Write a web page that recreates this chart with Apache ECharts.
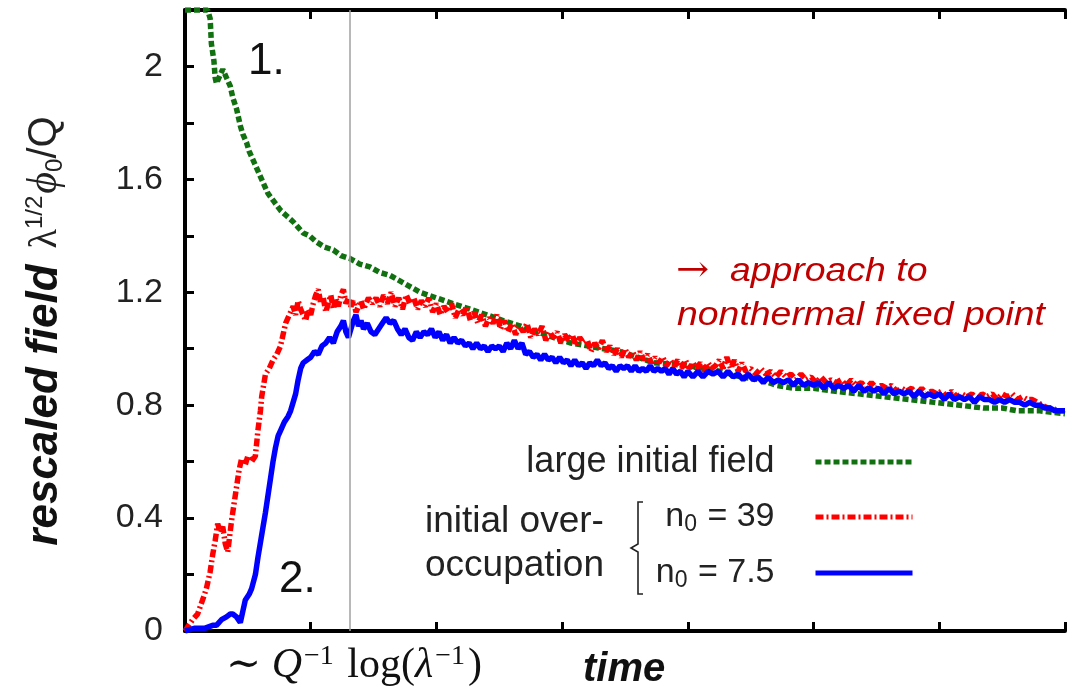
<!DOCTYPE html>
<html>
<head>
<meta charset="utf-8">
<script src="https://cdn.jsdelivr.net/npm/echarts@6/dist/echarts.min.js"></script>
<style>
  html, body { margin: 0; padding: 0; background: #fff; }
  #chart { width: 1068px; height: 691px; }
</style>
</head>
<body>
<div id="chart"></div>
<script>
// time in units of the tick spacing, field value rescaled
const seriesNames = ['large initial field', 'n0 = 39', 'n0 = 7.5'];

const largeField = [
  [0.00,2.20],[0.10,2.20],[0.18,2.20],[0.20,2.17],[0.21,2.08],[0.23,2.02],[0.24,1.96],[0.25,1.94],
  [0.28,1.97],[0.30,1.99],[0.33,1.96],[0.36,1.93],[0.38,1.89],[0.41,1.85],[0.44,1.79],[0.46,1.76],
  [0.49,1.73],[0.51,1.70],[0.54,1.67],[0.57,1.64],[0.60,1.61],[0.63,1.58],[0.66,1.55],[0.71,1.52],
  [0.76,1.49],[0.81,1.47],[0.86,1.45],[0.90,1.43],[0.94,1.41],[0.99,1.40],[1.04,1.38],[1.11,1.36],
  [1.18,1.35],[1.24,1.33],[1.31,1.32],[1.39,1.30],[1.47,1.29],[1.55,1.27],[1.63,1.26],[1.75,1.23],
  [1.87,1.20],[2.00,1.18],[2.13,1.16],[2.27,1.14],[2.40,1.12],[2.53,1.10],[2.67,1.08],[2.80,1.06],
  [2.93,1.04],[3.07,1.02],[3.20,1.01],[3.33,1.00],[3.46,0.99],[3.60,0.97],[3.73,0.95],[4.00,0.94],
  [4.26,0.92],[4.42,0.90],[4.58,0.89],[4.71,0.87],[4.84,0.86],[5.00,0.86],[5.16,0.85],[5.36,0.84],
  [5.56,0.83],[5.76,0.82],[5.96,0.81],[6.16,0.80],[6.35,0.79],[6.50,0.79],[6.62,0.78],[6.80,0.78],
  [7.00,0.77]
];

const overOcc39 = [
  [0.00,0.00],[0.03,0.02],[0.06,0.04],[0.10,0.06],[0.14,0.11],[0.17,0.15],[0.20,0.21],[0.22,0.27],
  [0.24,0.32],[0.26,0.38],[0.28,0.35],[0.30,0.37],[0.32,0.31],[0.34,0.28],[0.37,0.39],[0.39,0.45],
  [0.41,0.51],[0.43,0.57],[0.45,0.61],[0.48,0.59],[0.50,0.62],[0.53,0.60],[0.56,0.62],[0.58,0.71],
  [0.60,0.78],[0.61,0.83],[0.64,0.91],[0.67,0.93],[0.70,0.96],[0.73,0.98],[0.76,1.01],[0.78,1.05],
  [0.80,1.09],[0.83,1.12],[0.86,1.15],[0.88,1.12],[0.90,1.17],[0.92,1.14],[0.94,1.12],[0.96,1.10],
  [0.98,1.14],[1.00,1.12],[1.02,1.16],[1.04,1.19],[1.06,1.21],[1.08,1.16],[1.10,1.18],[1.12,1.13],
  [1.14,1.16],[1.16,1.19],[1.18,1.14],[1.20,1.18],[1.22,1.15],[1.24,1.19],[1.26,1.21],[1.28,1.16],
  [1.30,1.18],[1.32,1.15],[1.34,1.17],[1.36,1.13],[1.38,1.15],[1.40,1.17],[1.42,1.14],[1.44,1.16],
  [1.46,1.18],[1.49,1.16],[1.52,1.18],[1.55,1.15],[1.58,1.19],[1.61,1.16],[1.64,1.20],[1.67,1.15],
  [1.70,1.18],[1.73,1.14],[1.76,1.19],[1.79,1.16],[1.82,1.18],[1.85,1.14],[1.88,1.17],[1.91,1.15],
  [1.94,1.18],[1.97,1.13],[2.00,1.16],[2.03,1.12],[2.06,1.15],[2.09,1.13],[2.12,1.16],[2.15,1.11],
  [2.18,1.14],[2.21,1.12],[2.24,1.15],[2.27,1.10],[2.30,1.13],[2.33,1.09],[2.36,1.12],[2.39,1.08],
  [2.42,1.11],[2.45,1.09],[2.48,1.12],[2.51,1.07],[2.54,1.10],[2.57,1.06],[2.60,1.09],[2.63,1.05],
  [2.66,1.08],[2.69,1.06],[2.72,1.09],[2.75,1.04],[2.78,1.07],[2.81,1.05],[2.84,1.08],[2.87,1.03],
  [2.90,1.06],[2.93,1.04],[2.96,1.06],[2.99,1.02],[3.02,1.05],[3.05,1.03],[3.08,1.05],[3.11,1.01],
  [3.14,1.04],[3.17,1.02],[3.20,1.03],[3.23,0.99],[3.26,1.02],[3.29,1.00],[3.32,1.03],[3.35,0.99],
  [3.38,1.01],[3.41,0.98],[3.44,1.00],[3.47,0.97],[3.50,1.00],[3.53,0.97],[3.56,0.99],[3.59,0.96],
  [3.62,0.99],[3.65,0.96],[3.68,0.98],[3.71,0.95],[3.74,0.97],[3.77,0.95],[3.80,0.97],[3.83,0.94],
  [3.86,0.96],[3.89,0.94],[3.92,0.96],[3.95,0.93],[3.98,0.96],[4.01,0.93],[4.04,0.95],[4.07,0.93],
  [4.10,0.95],[4.13,0.92],[4.16,0.95],[4.19,0.93],[4.22,0.94],[4.25,0.96],[4.28,0.93],[4.31,0.97],
  [4.34,0.93],[4.37,0.96],[4.40,0.92],[4.43,0.95],[4.46,0.92],[4.50,0.93],[4.54,0.91],[4.58,0.93],
  [4.62,0.91],[4.66,0.92],[4.70,0.90],[4.74,0.92],[4.78,0.90],[4.82,0.91],[4.86,0.89],[4.90,0.91],
  [4.94,0.89],[4.98,0.90],[5.02,0.88],[5.06,0.90],[5.10,0.88],[5.14,0.89],[5.18,0.88],[5.22,0.89],
  [5.26,0.87],[5.30,0.89],[5.34,0.87],[5.38,0.88],[5.42,0.86],[5.46,0.88],[5.50,0.86],[5.54,0.87],
  [5.58,0.86],[5.62,0.87],[5.66,0.85],[5.70,0.86],[5.74,0.85],[5.78,0.86],[5.82,0.84],[5.86,0.86],
  [5.90,0.84],[5.94,0.85],[5.98,0.84],[6.02,0.85],[6.06,0.83],[6.10,0.85],[6.14,0.83],[6.18,0.84],
  [6.22,0.83],[6.26,0.84],[6.30,0.82],[6.34,0.84],[6.38,0.83],[6.42,0.84],[6.46,0.82],[6.50,0.84],
  [6.54,0.83],[6.58,0.84],[6.62,0.82],[6.66,0.83],[6.70,0.82],[6.74,0.82],[6.78,0.81],[6.82,0.80],
  [6.86,0.79],[6.90,0.79],[6.94,0.78],[7.00,0.78]
];

const overOcc75 = [
  [0.00,0.00],[0.08,0.01],[0.16,0.01],[0.22,0.02],[0.25,0.02],[0.29,0.04],[0.33,0.05],[0.36,0.06],
  [0.38,0.06],[0.41,0.05],[0.44,0.03],[0.46,0.07],[0.48,0.11],[0.51,0.13],[0.53,0.15],[0.56,0.20],
  [0.58,0.26],[0.61,0.34],[0.64,0.42],[0.66,0.48],[0.68,0.54],[0.70,0.60],[0.72,0.65],[0.74,0.69],
  [0.76,0.71],[0.79,0.74],[0.82,0.76],[0.84,0.78],[0.86,0.81],[0.88,0.84],[0.90,0.89],[0.92,0.93],
  [0.94,0.95],[0.97,0.96],[1.00,0.97],[1.03,0.99],[1.06,0.98],[1.09,1.01],[1.12,1.02],[1.15,1.04],
  [1.18,1.02],[1.21,1.06],[1.24,1.08],[1.26,1.10],[1.28,1.06],[1.30,1.04],[1.32,1.07],[1.34,1.10],
  [1.36,1.12],[1.38,1.08],[1.40,1.10],[1.42,1.07],[1.45,1.09],[1.48,1.06],[1.51,1.05],[1.54,1.07],
  [1.57,1.09],[1.60,1.11],[1.63,1.09],[1.66,1.10],[1.69,1.07],[1.72,1.05],[1.75,1.07],[1.78,1.04],
  [1.81,1.03],[1.84,1.06],[1.87,1.04],[1.90,1.06],[1.93,1.05],[1.96,1.07],[1.99,1.04],[2.02,1.06],
  [2.05,1.03],[2.08,1.05],[2.11,1.02],[2.14,1.04],[2.17,1.02],[2.20,1.03],[2.23,1.01],[2.26,1.02],
  [2.29,1.00],[2.32,1.02],[2.35,1.00],[2.38,1.01],[2.41,0.99],[2.44,1.01],[2.47,1.00],[2.50,1.01],
  [2.53,0.99],[2.56,1.02],[2.59,1.00],[2.62,1.03],[2.65,1.00],[2.68,1.02],[2.71,0.98],[2.74,0.99],
  [2.77,0.97],[2.80,0.98],[2.83,0.96],[2.86,0.98],[2.89,0.96],[2.92,0.97],[2.95,0.95],[2.98,0.97],
  [3.01,0.95],[3.04,0.96],[3.07,0.94],[3.10,0.96],[3.13,0.94],[3.16,0.95],[3.19,0.93],[3.22,0.95],
  [3.25,0.94],[3.28,0.96],[3.31,0.94],[3.34,0.95],[3.37,0.93],[3.40,0.94],[3.43,0.92],[3.46,0.94],
  [3.49,0.93],[3.52,0.94],[3.55,0.92],[3.58,0.94],[3.61,0.92],[3.64,0.93],[3.67,0.92],[3.70,0.94],
  [3.73,0.92],[3.76,0.93],[3.79,0.92],[3.82,0.93],[3.85,0.91],[3.88,0.93],[3.91,0.91],[3.94,0.92],
  [3.97,0.90],[4.00,0.92],[4.04,0.90],[4.08,0.92],[4.12,0.90],[4.16,0.92],[4.20,0.91],[4.24,0.92],
  [4.28,0.90],[4.32,0.92],[4.36,0.90],[4.40,0.91],[4.44,0.89],[4.48,0.91],[4.52,0.89],[4.56,0.90],
  [4.60,0.88],[4.64,0.90],[4.68,0.88],[4.72,0.89],[4.76,0.88],[4.80,0.89],[4.84,0.87],[4.88,0.89],
  [4.92,0.87],[4.96,0.88],[5.00,0.87],[5.04,0.88],[5.08,0.86],[5.12,0.88],[5.16,0.86],[5.20,0.87],
  [5.24,0.86],[5.28,0.87],[5.32,0.85],[5.36,0.87],[5.40,0.85],[5.44,0.86],[5.48,0.85],[5.52,0.86],
  [5.56,0.84],[5.60,0.86],[5.64,0.84],[5.68,0.85],[5.72,0.84],[5.76,0.85],[5.80,0.83],[5.84,0.85],
  [5.88,0.83],[5.92,0.84],[5.96,0.83],[6.00,0.84],[6.04,0.82],[6.08,0.84],[6.12,0.82],[6.16,0.83],
  [6.20,0.82],[6.24,0.83],[6.28,0.81],[6.32,0.83],[6.36,0.82],[6.40,0.82],[6.44,0.81],[6.48,0.82],
  [6.52,0.81],[6.56,0.82],[6.60,0.81],[6.64,0.81],[6.68,0.80],[6.72,0.81],[6.76,0.80],[6.80,0.80],
  [6.84,0.79],[6.88,0.79],[6.92,0.78],[6.96,0.78],[7.00,0.78]
];

// time at which the gray guide line sits (~ Q^-1 log(1/lambda))
const guideTime = [1.31];

const yTicks = { min: 0, max: 2.2, step: 0.2 };
const xTicks = { min: 0, max: 7, step: 1 };

const SANS = '"Liberation Sans", Arial, sans-serif';
const SERIF = '"Liberation Serif", "DejaVu Serif", serif';
const GREEN = '#11700f';
const RED = '#ff0000';
const BLUE = '#0000ff';
const DARKRED = '#c00000';

const chart = echarts.init(document.getElementById('chart'), null, { renderer: 'canvas' });

function yLabel(v) {
  const k = Math.round(v * 10);
  if (k % 4 !== 0) return '';
  if (k === 0) return '0';
  return k % 10 === 0 ? String(k / 10) : (k / 10).toFixed(1);
}

const axisLineStyle = { color: '#000', width: 4 };
const tickStyle = { show: true, inside: true, length: 9, lineStyle: { color: '#000', width: 3 } };

const legendRich = {
  t: { fontFamily: SANS, fontSize: 36, color: '#222' },
  n: { fontFamily: SANS, fontSize: 34, color: '#222' },
  s: { fontFamily: SANS, fontSize: 23, color: '#222', verticalAlign: 'bottom', padding: [16, 1, 0, 0] },
  g: { width: 36 }
};
function legendText(name) {
  const m = name.match(/^n0(.*)$/);
  if (m) return '{n|n}{s|0}{n|' + m[1] + '}{g|}';
  return '{t|' + name + '}{g|}';
}
function makeLegend(name, top) {
  return {
    data: [name],
    right: 153,
    top: top,
    orient: 'horizontal',
    align: 'right',
    padding: 0,
    itemWidth: 97,
    itemHeight: 14,
    selectedMode: false,
    formatter: legendText,
    itemStyle: { opacity: 0 },
    lineStyle: { width: 5 },
    textStyle: { rich: legendRich }
  };
}

const option = {
  animation: false,
  backgroundColor: '#fff',
  grid: { left: 185, right: 3, top: 10, bottom: 60, containLabel: false },
  xAxis: [
    {
      type: 'value', min: xTicks.min, max: xTicks.max, interval: xTicks.step,
      axisLine: { show: true, lineStyle: axisLineStyle },
      axisTick: tickStyle, axisLabel: { show: false }, splitLine: { show: false }
    },
    {
      type: 'value', position: 'top', min: xTicks.min, max: xTicks.max, interval: xTicks.step,
      axisLine: { show: true, lineStyle: axisLineStyle },
      axisTick: tickStyle, axisLabel: { show: false }, splitLine: { show: false }
    }
  ],
  yAxis: {
    type: 'value', min: yTicks.min, max: yTicks.max, interval: yTicks.step,
    axisLine: { show: true, lineStyle: axisLineStyle },
    axisTick: tickStyle,
    splitLine: { show: false },
    axisLabel: {
      formatter: yLabel, margin: 22, color: '#222',
      fontFamily: SANS, fontSize: 34
    }
  },
  legend: [
    makeLegend(seriesNames[0], 444),
    makeLegend(seriesNames[1], 500),
    makeLegend(seriesNames[2], 556)
  ],
  series: [
    {
      name: seriesNames[0], type: 'line', data: largeField, showSymbol: false, symbol: 'none',
      clip: true, z: 2,
      lineStyle: { color: GREEN, width: 5.5, type: [6, 3] },
      itemStyle: { color: GREEN }
    },
    {
      name: seriesNames[1], type: 'line', data: overOcc39, showSymbol: false, symbol: 'none',
      clip: true, z: 3,
      lineStyle: { color: RED, width: 5.5, type: [8, 3, 2, 3] },
      itemStyle: { color: RED }
    },
    {
      name: seriesNames[2], type: 'line', data: overOcc75, showSymbol: false, symbol: 'none',
      clip: true, z: 4,
      lineStyle: { color: BLUE, width: 5.5 },
      itemStyle: { color: BLUE },
      markLine: {
        silent: true, symbol: 'none', label: { show: false },
        lineStyle: { color: '#a0a0a0', width: 1.5, type: 'solid' },
        data: guideTime.map(t => ({ xAxis: t }))
      }
    }
  ],
  graphic: [
    // vertical axis title
    {
      type: 'text', x: 45, y: 331, rotation: Math.PI / 2,
      style: {
        text: '{b|rescaled field}{sp|}{l|λ}{sup|1/2}{p|ϕ}{sub|0}{q|/Q}',
        align: 'center', verticalAlign: 'middle',
        rich: {
          b: { fontFamily: SANS, fontSize: 44, fontWeight: 'bold', fontStyle: 'italic', fill: '#111' },
          sp: { width: 16 },
          l: { fontFamily: SERIF, fontSize: 40, fill: '#222' },
          sup: { fontFamily: SANS, fontSize: 24, fill: '#222', verticalAlign: 'top', padding: [0, 2, 16, 0] },
          p: { fontFamily: SERIF, fontSize: 42, fontStyle: 'italic', fill: '#222' },
          sub: { fontFamily: SANS, fontSize: 24, fill: '#222', verticalAlign: 'bottom', padding: [16, 0, 0, 0] },
          q: { fontFamily: SANS, fontSize: 40, fill: '#222' }
        }
      }
    },
    // horizontal axis annotations
    {
      type: 'text', x: 226, y: 666,
      style: {
        text: '{t|∼ }{q|Q}{s|−1}{t| log(}{q|λ}{s|−1}{t|)}',
        align: 'left', verticalAlign: 'middle',
        rich: {
          t: { fontFamily: SERIF, fontSize: 42, fill: '#111' },
          q: { fontFamily: SERIF, fontSize: 42, fontStyle: 'italic', fill: '#111' },
          s: { fontFamily: SERIF, fontSize: 28, fill: '#111', verticalAlign: 'top', padding: [0, 3, 18, 2] }
        }
      }
    },
    {
      type: 'text', x: 583, y: 670,
      style: {
        text: 'time', align: 'left', verticalAlign: 'middle',
        fontFamily: SANS, fontSize: 40, fontWeight: 'bold', fontStyle: 'italic', fill: '#111'
      }
    },
    // stage markers
    {
      type: 'text', x: 248, y: 62,
      style: { text: '1.', align: 'left', verticalAlign: 'middle', fontFamily: SANS, fontSize: 44, fill: '#111' }
    },
    {
      type: 'text', x: 279, y: 580,
      style: { text: '2.', align: 'left', verticalAlign: 'middle', fontFamily: SANS, fontSize: 44, fill: '#111' }
    },
    // fixed-point annotation
    {
      type: 'text', x: 676, y: 272, scaleX: 1.1,
      style: {
        text: '{a|→}{t|  approach to}', align: 'left', verticalAlign: 'middle',
        rich: {
          a: { fontFamily: '"DejaVu Serif", serif', fontSize: 36, fill: DARKRED },
          t: { fontFamily: SANS, fontSize: 34, fontStyle: 'italic', fill: DARKRED }
        }
      }
    },
    {
      type: 'text', x: 677, y: 316, scaleX: 1.1,
      style: {
        text: 'nonthermal fixed point', align: 'left', verticalAlign: 'middle',
        fontFamily: SANS, fontSize: 34, fontStyle: 'italic', fill: DARKRED
      }
    },
    // grouped legend caption with brace
    {
      type: 'text', x: 425, y: 522,
      style: { text: 'initial over-', align: 'left', verticalAlign: 'middle', fontFamily: SANS, fontSize: 37, fill: '#222' }
    },
    {
      type: 'text', x: 425, y: 566,
      style: { text: 'occupation', align: 'left', verticalAlign: 'middle', fontFamily: SANS, fontSize: 37, fill: '#222' }
    },
    {
      type: 'polyline',
      shape: { points: [[643, 502], [638, 502], [638, 544], [631, 548], [638, 552], [638, 594], [643, 594]] },
      style: { stroke: '#222', lineWidth: 1.6, fill: null }
    }
  ]
};

chart.setOption(option);
</script>
</body>
</html>
